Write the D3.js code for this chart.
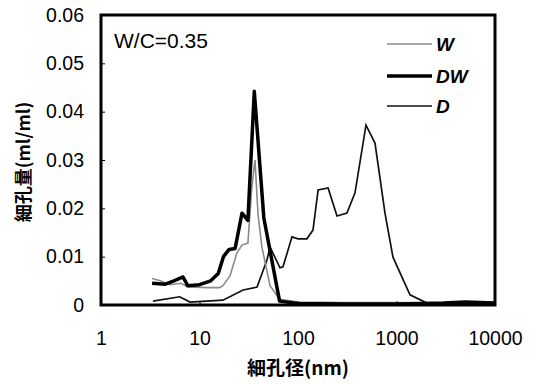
<!DOCTYPE html>
<html>
<head>
<meta charset="utf-8">
<script src="https://cdn.jsdelivr.net/npm/d3@7"></script>
<style>
  body { margin: 0; background: #fff; }
  text { font-family: "Liberation Sans", Arial, sans-serif; }
</style>
</head>
<body>
<div id="chart"></div>
<script>
// dimensions
var svgWidth = 536, svgHeight = 384;
var plot = { left: 101, right: 495, top: 15, bottom: 305 };

// data (pore diameter nm, pore volume ml/ml)
var xTicks = [1, 10, 100, 1000, 10000];
var yTicks = [0, 0.01, 0.02, 0.03, 0.04, 0.05, 0.06];

var wX = [3.3, 4.0, 5.0, 6.5, 7.5, 9, 12, 16, 17.3, 20.4, 24, 27, 31, 34, 36.6, 39.3, 43, 52, 65, 100, 300, 1000, 3000, 10000];
var wY = [0.0055, 0.0050, 0.0042, 0.0045, 0.0038, 0.0037, 0.0036, 0.0036, 0.0040, 0.0060, 0.0108, 0.0124, 0.0128, 0.0244, 0.0300, 0.0187, 0.0120, 0.0040, 0.0012, 0.0006, 0.0005, 0.0005, 0.0004, 0.0004];

var dwX = [3.3, 4.5, 5.5, 6.8, 7.6, 10, 13, 15.5, 17.5, 20, 23, 27, 31, 36, 45, 65, 100, 300, 1000, 3000, 5000, 10000];
var dwY = [0.0045, 0.0043, 0.0050, 0.0058, 0.0040, 0.0042, 0.0050, 0.0065, 0.0100, 0.0115, 0.0117, 0.0190, 0.0175, 0.0442, 0.0180, 0.0008, 0.0003, 0.0002, 0.0002, 0.0004, 0.0006, 0.0004];

var dX = [3.37, 6.3, 8.0, 17.3, 27.7, 38.4, 48.4, 52, 65.6, 70.4, 86.9, 100, 123, 142, 160, 202, 249, 314, 379, 490, 605, 764, 921, 1371, 2042, 4414, 9770];
var dY = [0.0008, 0.0017, 0.0006, 0.0010, 0.0031, 0.0037, 0.0093, 0.0120, 0.0077, 0.0079, 0.0141, 0.0137, 0.0137, 0.0155, 0.0238, 0.0242, 0.0184, 0.0190, 0.0232, 0.0372, 0.0335, 0.0190, 0.0099, 0.0021, 0.0004, 0.0003, 0.0003];

var seriesNames = ["W", "DW", "D"];

// svg
var svg = d3.select("#chart")
  .append("svg")
    .attr("width", svgWidth)
    .attr("height", svgHeight);

// scales
var x = d3.scaleLog().domain([1, 10000]).range([plot.left, plot.right]);
var y = d3.scaleLinear().domain([0, 0.06]).range([plot.bottom, plot.top]);

// X axis
svg.append("g")
  .attr("transform", "translate(0," + plot.bottom + ")")
  .call(d3.axisBottom(x).tickValues(xTicks).tickSizeInner(-4).tickSizeOuter(0).tickPadding(26)
    .tickFormat(d3.format("d")))
  .call(g => g.select(".domain").remove())
  .call(g => g.selectAll("line").attr("stroke", "#000"))
  .call(g => g.selectAll("text").attr("font-size", 19.5).attr("fill", "#000")
    .style("font-family", "'Liberation Sans', Arial, sans-serif"));

// Y axis
svg.append("g")
  .attr("transform", "translate(" + plot.left + ",0)")
  .call(d3.axisLeft(y).tickValues(yTicks).tickSizeInner(-4).tickSizeOuter(0).tickPadding(17)
    .tickFormat(d => d === 0 ? "0" : d3.format(".2f")(d)))
  .call(g => g.select(".domain").remove())
  .call(g => g.selectAll("line").attr("stroke", "#000"))
  .call(g => g.selectAll("text").attr("font-size", 19.5).attr("fill", "#000")
    .style("font-family", "'Liberation Sans', Arial, sans-serif"));

// lines
var line = d3.line()
  .x(d => x(d[0]))
  .y(d => y(d[1]));

function pairs(xs, ys) { return xs.map((v, i) => [v, ys[i]]); }

svg.append("path")
  .datum(pairs(dX, dY))
  .attr("d", line)
  .attr("fill", "none")
  .attr("stroke", "#111")
  .attr("stroke-width", 1.7);

svg.append("path")
  .datum(pairs(wX, wY))
  .attr("d", line)
  .attr("fill", "none")
  .attr("stroke", "#8a8a8a")
  .attr("stroke-width", 1.6);

svg.append("path")
  .datum(pairs(dwX, dwY))
  .attr("d", line)
  .attr("fill", "none")
  .attr("stroke", "#000")
  .attr("stroke-width", 3.5)
  .attr("stroke-linejoin", "round");

// frame
svg.append("rect")
  .attr("x", plot.left)
  .attr("y", plot.top)
  .attr("width", plot.right - plot.left)
  .attr("height", plot.bottom - plot.top)
  .attr("fill", "none")
  .attr("stroke", "#000")
  .attr("stroke-width", 3);

// W/C label
svg.append("text")
  .attr("x", 114)
  .attr("y", 48)
  .attr("font-size", 21)
  .text("W/C=0.35");

// legend
var legendStyle = {
  W:  { stroke: "#8a8a8a", width: 1.6, y: 44 },
  DW: { stroke: "#000", width: 3.5, y: 76 },
  D:  { stroke: "#111", width: 1.7, y: 106 }
};
seriesNames.forEach(function(name) {
  var s = legendStyle[name];
  svg.append("line")
    .attr("x1", 387).attr("x2", 432)
    .attr("y1", s.y).attr("y2", s.y)
    .attr("stroke", s.stroke)
    .attr("stroke-width", s.width);
  svg.append("text")
    .attr("x", 436)
    .attr("y", s.y + 7)
    .attr("font-size", 19)
    .attr("font-weight", "bold")
    .attr("font-style", "italic")
    .text(name);
});

// axis titles
svg.append("text")
  .attr("x", 298)
  .attr("y", 375)
  .attr("text-anchor", "middle")
  .attr("font-size", 19)
  .attr("font-weight", "bold")
  .style("font-family", "'Noto Sans CJK JP', sans-serif")
  .text("細孔径(nm)");

svg.append("text")
  .attr("transform", "translate(30,162) rotate(-90)")
  .attr("text-anchor", "middle")
  .attr("font-size", 18)
  .attr("font-weight", "bold")
  .style("font-family", "'Noto Sans CJK JP', sans-serif")
  .text("細孔量(ml/ml)");
</script>
</body>
</html>
